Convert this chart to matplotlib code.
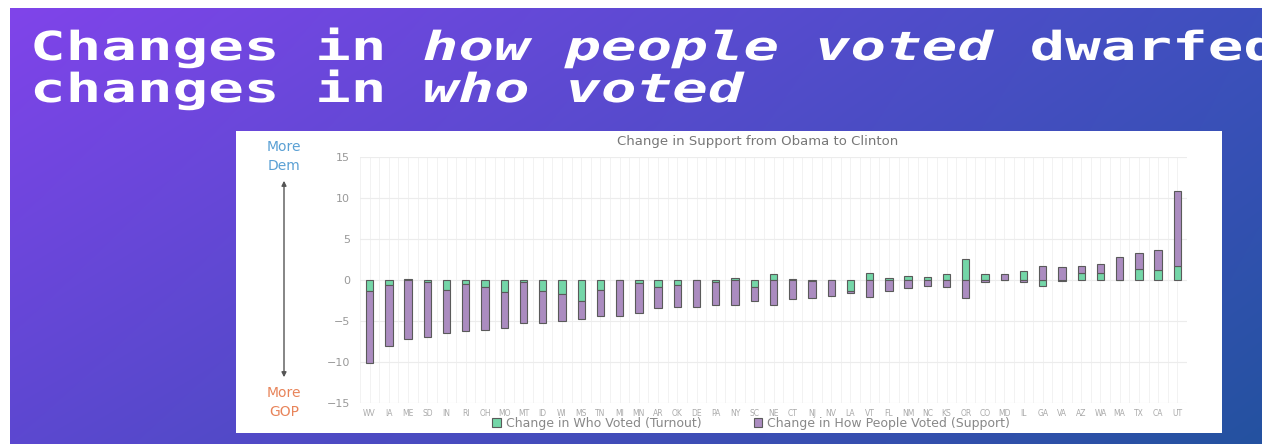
import numpy as np
import matplotlib
matplotlib.use("Agg")
import matplotlib.pyplot as plt
from matplotlib.font_manager import FontProperties
from matplotlib.textpath import TextPath
from matplotlib.patches import PathPatch, Rectangle
from matplotlib.transforms import Affine2D

# state-level change in Dem margin, Obama 2012 -> Clinton 2016 (points)
states = ["WV", "IA", "ME", "SD", "IN", "RI", "OH", "MO", "MT", "ID", "WI", "MS",
          "TN", "MI", "MN", "AR", "OK", "DE", "PA", "NY", "SC", "NE", "CT", "NJ",
          "NV", "LA", "VT", "FL", "NM", "NC", "KS", "OR", "CO", "MD", "IL", "GA",
          "VA", "AZ", "WA", "MA", "TX", "CA", "UT"]
turnout = [-1.4, -0.6, 0.1, -0.3, -1.2, -0.5, -0.8, -1.5, -0.3, -1.3, -1.75, -2.6,
           -1.2, 0.0, -0.4, -0.8, -0.6, 0.0, -0.3, 0.3, -0.8, 0.7, 0.1, -0.1,
           0.0, -1.4, 0.8, 0.2, 0.5, 0.4, 0.7, 2.6, 0.7, 0.0, 1.1, -0.7,
           -0.1, 0.9, 0.8, 0.0, 1.3, 1.2, 1.7]
support = [-8.7, -7.5, -7.2, -6.7, -5.3, -5.7, -5.3, -4.3, -5.0, -4.0, -3.25, -2.1,
           -3.2, -4.35, -3.6, -2.6, -2.7, -3.25, -2.8, -3.0, -1.8, -3.05, -2.3, -2.1,
           -1.95, -0.15, -2.1, -1.4, -0.95, -0.7, -0.9, -2.2, -0.3, 0.7, -0.3, 1.7,
           1.55, 0.75, 1.2, 2.75, 2.0, 2.45, 9.1]
yticks = [-15, -10, -5, 0, 5, 10, 15]

W, H = 1262, 444
fig = plt.figure(figsize=(W / 100, H / 100), dpi=100)
fig.patch.set_facecolor("white")

# slide background: diagonal purple -> blue gradient
bg = fig.add_axes([0, 0, 1, 1])
bg.set_xlim(0, W)
bg.set_ylim(H, 0)
bg.axis("off")
gx, gy = np.meshgrid(np.linspace(0, 1, 300), np.linspace(0, 1, 120))
tl = np.array([128, 68, 234]) / 255
tr = np.array([62, 80, 190]) / 255
bl = np.array([92, 72, 208]) / 255
br = np.array([36, 82, 160]) / 255
grad = ((1 - gx)[..., None] * (1 - gy)[..., None] * tl + gx[..., None] * (1 - gy)[..., None] * tr
        + (1 - gx)[..., None] * gy[..., None] * bl + gx[..., None] * gy[..., None] * br)
bg.imshow(grad, extent=[10, W, H, 9], aspect="auto", interpolation="bilinear")
bg.add_patch(Rectangle((236, 131), 986, 302, facecolor="white", edgecolor="none"))


def slide_text(col, s, style, baseline):
    # wide monospace heading, drawn as a stretched text path
    fp = FontProperties(family="DejaVu Sans Mono", weight="bold", style=style)
    path = TextPath((0, 0), s, size=40, prop=fp)
    tf = Affine2D().scale(1.48, 1.0).translate(30 + col * 35.7, H - baseline)
    fig.add_artist(PathPatch(path, transform=tf, facecolor="white", edgecolor="none"))


col = 0
for part, style in [("Changes in ", "normal"), ("how people voted", "oblique"), (" dwarfed", "normal")]:
    slide_text(col, part, style, 60)
    col += len(part)
col = 0
for part, style in [("changes in ", "normal"), ("who voted", "oblique")]:
    slide_text(col, part, style, 102)
    col += len(part)

# chart
green = "#74d6a8"
purple = "#ab8cc0"
edge = "#5a5a5a"
ax = fig.add_axes([360 / W, (H - 403) / H, 827 / W, 246 / H])
ax.set_facecolor("none")
x = np.arange(len(states))
turnout = np.array(turnout)
support = np.array(support)
bottom = np.where(np.sign(support) == np.sign(turnout), turnout, 0)
ax.bar(x, turnout, 0.38, color=green, edgecolor=edge, linewidth=0.8, zorder=3,
       label="Change in Who Voted (Turnout)")
ax.bar(x, support, 0.38, bottom=bottom, color=purple, edgecolor=edge, linewidth=0.8, zorder=3,
       label="Change in How People Voted (Support)")

ax.set_xlim(-0.5, len(states) - 0.5)
ax.set_ylim(-15, 15)
ax.set_yticks(yticks)
ax.set_xticks(x)
ax.set_xticklabels(states, fontsize=5.5, color="#aaaaaa")
ax.tick_params(axis="y", labelsize=8, colors="#999999", length=0, pad=7)
ax.tick_params(axis="x", length=0, pad=4)
for s in ax.spines.values():
    s.set_visible(False)
ax.grid(axis="y", color="#ececec", linewidth=0.8, zorder=0)
for v in np.arange(-0.5, len(states), 0.5):
    ax.axvline(v, color="#f2f2f2", linewidth=0.7, zorder=0)

fig.text(0.6006, 1 - 141 / H, "Change in Support from Obama to Clinton", ha="center", va="center",
         fontsize=9.5, color="#777777")
leg = ax.legend(loc="center", ncol=2, frameon=False, fontsize=9, labelcolor="#888888",
                handlelength=0.7, handleheight=0.7, handletextpad=0.4, columnspacing=4.2)
leg.set_bbox_to_anchor((751 / W, 1 - 423 / H), transform=fig.transFigure)

# direction key on the left
fig.text(284 / W, 1 - 147 / H, "More", ha="center", va="center", fontsize=10, color="#5aa0d4")
fig.text(284 / W, 1 - 166 / H, "Dem", ha="center", va="center", fontsize=10, color="#5aa0d4")
fig.text(284 / W, 1 - 393 / H, "More", ha="center", va="center", fontsize=10, color="#e8845a")
fig.text(284 / W, 1 - 412 / H, "GOP", ha="center", va="center", fontsize=10, color="#e8845a")
bg.annotate("", xy=(284, 178), xytext=(284, 380),
            arrowprops=dict(arrowstyle="<|-|>", color="#555555", lw=1, mutation_scale=7))

fig.savefig("out.png", dpi=100)
